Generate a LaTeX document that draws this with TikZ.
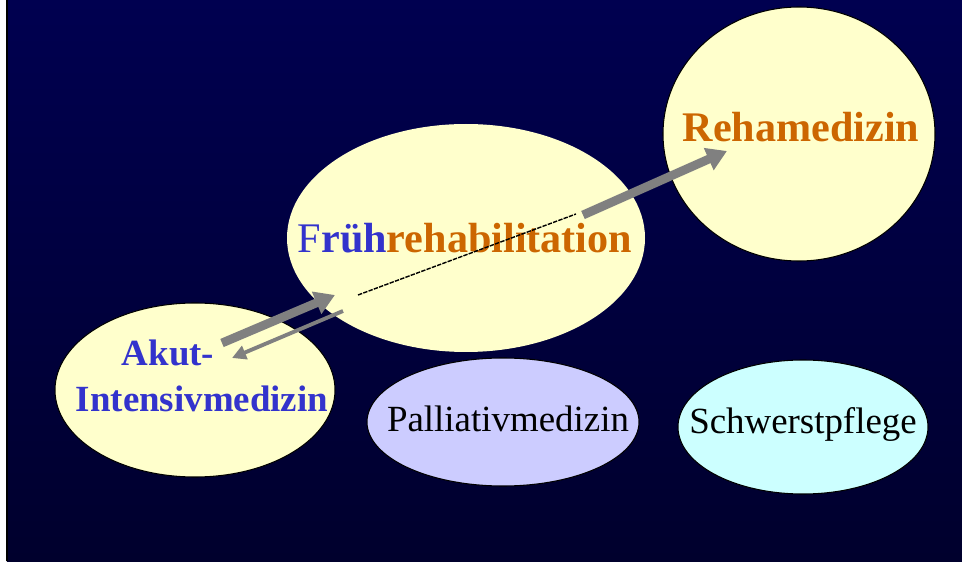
\documentclass[tikz,border=0pt]{standalone}
\usepackage{fontspec}
\setmainfont{Liberation Serif}
\usetikzlibrary{shapes.geometric,arrows.meta}
\definecolor{fondhaut}{RGB}{0,0,80}
\definecolor{fondmilieu}{RGB}{0,0,100}
\definecolor{fondbas}{RGB}{0,0,45}
\definecolor{jaune}{RGB}{255,255,204}
\definecolor{lilas}{RGB}{204,204,255}
\definecolor{cyanclair}{RGB}{204,255,255}
\definecolor{bleutxt}{RGB}{51,51,204}
\definecolor{ocre}{RGB}{204,102,0}
\definecolor{grisfl}{RGB}{128,128,128}

\begin{document}
\begin{tikzpicture}[scale=1,
  bulle/.style={ellipse, draw=black, line width=0.6pt, inner sep=0pt},
  texte/.style={inner sep=0pt, align=center},
  grosfl/.style={grisfl, line width=5pt, -{Triangle[length=4mm,width=4.6mm]}},
  petitfl/.style={grisfl, line width=2.2pt, -{Triangle[length=2.8mm,width=2.8mm]}}]
\useasboundingbox (0,0) rectangle (19.24,11.22);
\fill [white] (0,0) rectangle (0.14,11.22);
\shade [top color=fondhaut, middle color=fondmilieu, bottom color=fondbas] (0.14,0) rectangle (19.24,11.22);
\draw [black, line width=0.8pt] (0.14,0) -- (0.14,11.22);

\node [bulle, fill=jaune, minimum width=5.44cm, minimum height=5.08cm] (reha) at (15.98,8.54) {};
\node [bulle, draw=none, fill=jaune, minimum width=7.16cm, minimum height=4.56cm] (frueh) at (9.32,6.46) {};
\node [bulle, fill=jaune, minimum width=5.6cm, minimum height=3.48cm] (akut) at (3.90,3.42) {};
\node [bulle, fill=lilas, minimum width=5.44cm, minimum height=2.56cm] (pall) at (10.06,2.78) {};
\node [bulle, fill=cyanclair, minimum width=5.0cm, minimum height=2.68cm] (schwer) at (16.06,2.68) {};

\node [texte, text=ocre, font=\fontsize{24}{28}\selectfont\bfseries] (rehatxt) at (16.02,8.68) {Rehamedizin};
\node [texte, font=\fontsize{24}{28}\selectfont] (fruehtxt) at (9.30,6.45) {\textcolor{bleutxt}{F\textbf{rüh}}\textcolor{ocre}{\textbf{rehabilitation}}};
\node [texte, text=bleutxt, font=\fontsize{21}{26.6}\selectfont\bfseries] (akuttxt) at (4.04,3.70) {Akut-\hspace*{1.36cm}\\Intensivmedizin};
\node [texte, font=\fontsize{21}{25}\selectfont] (palltxt) at (10.16,2.84) {Palliativmedizin};
\node [texte, font=\fontsize{21}{25}\selectfont] (schwertxt) at (16.06,2.74) {Schwerstpflege};

\coordinate (d1) at (4.44,4.36);
\coordinate (f1) at (6.70,5.32);
\coordinate (d2) at (6.86,5.00);
\coordinate (f2) at (4.64,4.06);
\coordinate (d3) at (7.16,5.32);
\coordinate (f3) at (11.52,6.94);
\coordinate (d4) at (11.66,6.92);
\coordinate (f4) at (14.54,8.20);

\draw [grosfl] (d1) -- (f1);
\draw [petitfl] (d2) -- (f2);
\draw [black, line width=0.8pt, dash pattern=on 2.5pt off 0.7pt] (d3) -- (f3);
\draw [grosfl] (d4) -- (f4);

\end{tikzpicture}
\end{document}
